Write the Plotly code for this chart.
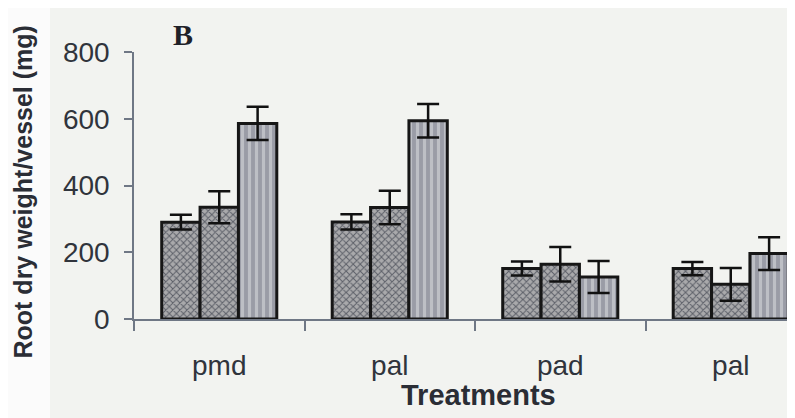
import plotly.graph_objects as go

# ---- data ----
categories = ["pmd", "pal", "pad", "pal"]
series1 = [290, 291, 151, 151]
err1 = [22, 23, 21, 20]
series2 = [335, 334, 164, 104]
err2 = [48, 50, 52, 49]
series3 = [586, 594, 126, 196]
err3 = [50, 50, 48, 49]
y_ticks = [0, 200, 400, 600, 800]

xpos = list(range(len(categories)))

AX = "#6f7785"
TXT = "#30343c"
EDGE = "#161616"

# page has an 8px body margin; figure is drawn at offset (8, 8)
OFF = 8
L, T, PW, PH = 134 - OFF, 52 - OFF, 661, 267
W, H = 795 - OFF, 418 - OFF

fig = go.Figure()

def add(vals, errs, bg, fg, shape, size, sol):
    fig.add_trace(go.Bar(
        x=xpos, y=vals,
        marker=dict(color=bg, line=dict(color=EDGE, width=3),
                    pattern=dict(shape=shape, bgcolor=bg, fgcolor=fg,
                                 size=size, solidity=sol, fillmode="replace")),
        error_y=dict(type="data", array=errs, visible=True,
                     color="#111111", thickness=2.5, width=11),
        showlegend=False,
    ))

add(series1, err1, "#a9a9ab", "#5c5f68", "x", 5, 0.35)
add(series2, err2, "#a9a9ab", "#5c5f68", "x", 5, 0.35)
add(series3, err3, "#9a9ca6", "#bdbfc5", "|", 7, 0.45)

fig.update_layout(
    width=W, height=H,
    margin=dict(l=L, r=W - L - PW, t=T, b=H - T - PH, autoexpand=False),
    paper_bgcolor="#f2f3f0",
    plot_bgcolor="rgba(0,0,0,0)",
    barmode="group", bargap=0.325, bargroupgap=0,
    font=dict(family="Liberation Sans, Arial, sans-serif", color=TXT),
    showlegend=False,
)

fig.update_xaxes(
    range=[-0.5, -0.5 + PW / 170.5],
    tickmode="array", tickvals=xpos, ticktext=categories,
    ticks="", ticklen=0,
    tickfont=dict(size=28, color=TXT),
    ticklabelstandoff=21,
    showline=True, linecolor=AX, linewidth=1.5,
    showgrid=False, zeroline=False,
    minor=dict(tickmode="array", tickvals=[i - 0.5 for i in range(len(categories) + 1)],
               ticks="outside", ticklen=10, tickcolor=AX, tickwidth=1.5, showgrid=False),
)

fig.update_yaxes(
    range=[0, 800], tickmode="array", tickvals=y_ticks,
    ticks="outside", ticklen=8, tickcolor=AX, tickwidth=1.5,
    tickfont=dict(size=28, color=TXT),
    ticklabelstandoff=9,
    showline=True, linecolor=AX, linewidth=1.5,
    showgrid=False, zeroline=False,
)

def px(xp):  # page x -> paper
    return (xp - OFF - L) / PW

def py(yp):  # page y -> paper
    return (T + PH - (yp - OFF)) / PH

# white scan margin on the left
fig.add_shape(type="rect", xref="paper", yref="paper",
              x0=px(0), x1=px(50), y0=py(430), y1=py(0),
              fillcolor="#fbfbfb", line=dict(width=0), layer="below")

fig.add_annotation(text="<b>Root dry weight/vessel (mg)</b>", textangle=-90,
                   xref="paper", yref="paper", x=px(22), y=py(192.5),
                   xanchor="center", yanchor="middle", showarrow=False,
                   font=dict(size=25, color="#2a2d35"))
fig.add_annotation(text="<b>Treatments</b>",
                   xref="paper", yref="paper", x=px(478), y=py(395),
                   xanchor="center", yanchor="middle", showarrow=False,
                   font=dict(size=29, color="#2a2d35"))
fig.add_annotation(text="<b>B</b>",
                   xref="paper", yref="paper", x=px(183), y=py(34),
                   xanchor="center", yanchor="middle", showarrow=False,
                   font=dict(size=30, color="#1e2128", family="Liberation Serif, Times New Roman, serif"))

fig.write_html("out.html")
